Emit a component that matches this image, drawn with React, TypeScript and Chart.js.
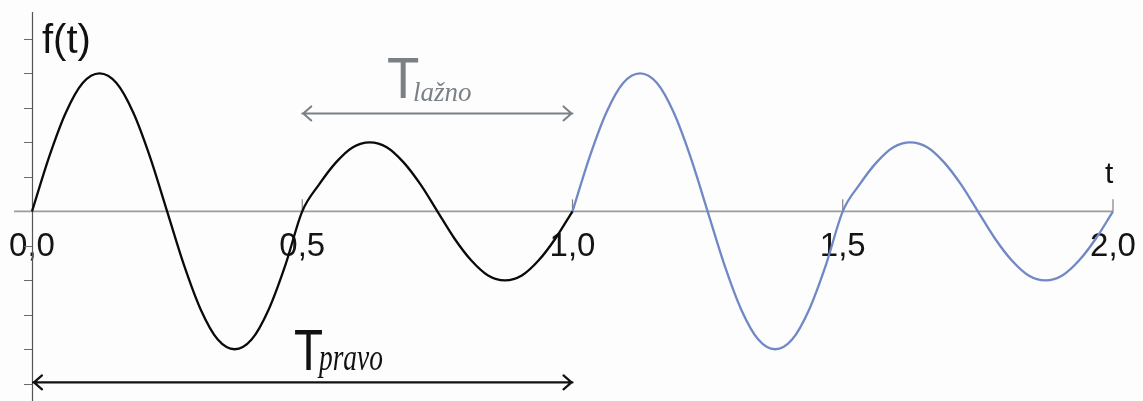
import React, { useEffect, useRef } from "react";
import { Chart, registerables } from "chart.js";

Chart.register(...registerables);

// sample times (first period 0..1, second period 1..2)
const tFirst = [
  0, 0.03125, 0.0625, 0.09375, 0.125, 0.15625, 0.1875, 0.21875, 0.25,
  0.28125, 0.3125, 0.34375, 0.375, 0.40625, 0.4375, 0.46875, 0.5,
  0.53125, 0.5625, 0.59375, 0.625, 0.65625, 0.6875, 0.71875, 0.75,
  0.78125, 0.8125, 0.84375, 0.875, 0.90625, 0.9375, 0.96875, 1,
];
const fFirst = [
  0, 0.78, 1.43, 1.86, 2.0, 1.86, 1.43, 0.78, 0,
  -0.78, -1.43, -1.86, -2.0, -1.86, -1.43, -0.78, 0,
  0.39, 0.71, 0.93, 1.0, 0.93, 0.71, 0.39, 0,
  -0.39, -0.71, -0.93, -1.0, -0.93, -0.71, -0.39, 0,
];
const tSecond = [
  1, 1.03125, 1.0625, 1.09375, 1.125, 1.15625, 1.1875, 1.21875, 1.25,
  1.28125, 1.3125, 1.34375, 1.375, 1.40625, 1.4375, 1.46875, 1.5,
  1.53125, 1.5625, 1.59375, 1.625, 1.65625, 1.6875, 1.71875, 1.75,
  1.78125, 1.8125, 1.84375, 1.875, 1.90625, 1.9375, 1.96875, 2,
];
const fSecond = [
  0, 0.78, 1.43, 1.86, 2.0, 1.86, 1.43, 0.78, 0,
  -0.78, -1.43, -1.86, -2.0, -1.86, -1.43, -0.78, 0,
  0.39, 0.71, 0.93, 1.0, 0.93, 0.71, 0.39, 0,
  -0.39, -0.71, -0.93, -1.0, -0.93, -0.71, -0.39, 0,
];

const xTickValues = [0, 0.5, 1, 1.5, 2];
const xTickLabels = ["0,0", "0,5", "1,0", "1,5", "2,0"];
const yTickValues = [-2.5, -2, -1.5, -1, -0.5, 0.5, 1, 1.5, 2, 2.5];

const yAxisTitle = "f(t)";
const xAxisTitle = "t";
const periodFalse = { from: 0.5, to: 1.0, level: 1.42, main: "T", sub: "lažno" };
const periodTrue = { from: 0.0, to: 1.0, level: -2.48, main: "T", sub: "pravo" };

function drawText(
  ctx: CanvasRenderingContext2D,
  text: string,
  x: number,
  y: number,
  font: string,
  color: string,
  scaleX = 1,
  align: CanvasTextAlign = "left"
) {
  ctx.save();
  ctx.font = font;
  ctx.fillStyle = color;
  ctx.textAlign = align;
  ctx.textBaseline = "alphabetic";
  ctx.translate(x, y);
  ctx.scale(scaleX, 1);
  ctx.fillText(text, 0, 0);
  ctx.restore();
}

function drawArrow(
  ctx: CanvasRenderingContext2D,
  x1: number,
  x2: number,
  y: number,
  color: string,
  width: number
) {
  ctx.save();
  ctx.strokeStyle = color;
  ctx.lineWidth = width;
  ctx.lineCap = "round";
  ctx.lineJoin = "round";
  ctx.beginPath();
  ctx.moveTo(x1, y);
  ctx.lineTo(x2, y);
  ctx.moveTo(x1 + 9, y - 7);
  ctx.lineTo(x1 + 1, y);
  ctx.lineTo(x1 + 9, y + 7);
  ctx.moveTo(x2 - 9, y - 7);
  ctx.lineTo(x2 - 1, y);
  ctx.lineTo(x2 - 9, y + 7);
  ctx.stroke();
  ctx.restore();
}

const axesPlugin = {
  id: "customAxes",
  beforeDraw(chart: any) {
    const ctx = chart.ctx as CanvasRenderingContext2D;
    ctx.save();
    ctx.fillStyle = "#fdfdfd";
    ctx.fillRect(0, 0, chart.width, chart.height);
    ctx.restore();
  },
  beforeDatasetsDraw(chart: any) {
    const ctx = chart.ctx as CanvasRenderingContext2D;
    const xs = chart.scales.x;
    const ys = chart.scales.y;
    const x0 = xs.getPixelForValue(0);
    const y0 = ys.getPixelForValue(0);
    const xEnd = xs.getPixelForValue(2);

    // x tick labels
    xTickValues.forEach((v, i) => {
      drawText(ctx, xTickLabels[i], xs.getPixelForValue(v), y0 + 45, "33px 'Liberation Sans', Arial, sans-serif", "#141414", 1, "center");
    });

    ctx.save();
    // zero line
    ctx.strokeStyle = "#9c9c9c";
    ctx.lineWidth = 1.6;
    ctx.beginPath();
    ctx.moveTo(x0 - 18, y0);
    ctx.lineTo(xEnd, y0);
    ctx.stroke();

    // x ticks (upwards)
    ctx.strokeStyle = "#808080";
    ctx.lineWidth = 1.2;
    xTickValues.forEach((v) => {
      if (v === 0) return;
      const px = xs.getPixelForValue(v);
      ctx.beginPath();
      ctx.moveTo(px, y0 - 12);
      ctx.lineTo(px, y0);
      ctx.stroke();
    });

    // y ticks
    ctx.strokeStyle = "#6a6a6a";
    ctx.lineWidth = 1;
    yTickValues.forEach((v) => {
      const py = Math.round(ys.getPixelForValue(v)) + 0.5;
      ctx.beginPath();
      ctx.moveTo(x0 - 8, py);
      ctx.lineTo(x0, py);
      ctx.stroke();
    });

    // y axis line
    ctx.strokeStyle = "#555555";
    ctx.lineWidth = 1.2;
    ctx.beginPath();
    ctx.moveTo(Math.round(x0) + 0.5, ys.top);
    ctx.lineTo(Math.round(x0) + 0.5, ys.bottom);
    ctx.stroke();
    ctx.restore();
  },
  afterDatasetsDraw(chart: any) {
    const ctx = chart.ctx as CanvasRenderingContext2D;
    const xs = chart.scales.x;
    const ys = chart.scales.y;
    const y0 = ys.getPixelForValue(0);

    // axis titles
    drawText(ctx, yAxisTitle, xs.getPixelForValue(0) + 10, 53, "40px 'Liberation Sans', Arial, sans-serif", "#111111", 1);
    drawText(ctx, xAxisTitle, xs.getPixelForValue(2) - 8, y0 - 28, "30px 'Liberation Sans', Arial, sans-serif", "#111111");

    // false period
    const fy = ys.getPixelForValue(periodFalse.level);
    drawArrow(ctx, xs.getPixelForValue(periodFalse.from), xs.getPixelForValue(periodFalse.to), fy, "#7b8086", 2);
    drawText(ctx, periodFalse.main, 387, 98, "57px 'Liberation Sans', Arial, sans-serif", "#7b8086", 0.93);
    drawText(ctx, periodFalse.sub, 413, 101, "italic 27px 'Liberation Serif', 'Times New Roman', serif", "#7b8086");

    // true period
    const ty = ys.getPixelForValue(periodTrue.level);
    drawArrow(ctx, xs.getPixelForValue(periodTrue.from) + 1, xs.getPixelForValue(periodTrue.to), ty, "#111111", 2.2);
    drawText(ctx, periodTrue.main, 294, 370, "58px 'Liberation Sans', Arial, sans-serif", "#111111", 0.82);
    drawText(ctx, periodTrue.sub, 319, 370, "italic 37px 'Liberation Serif', 'Times New Roman', serif", "#111111", 0.74);
  },
};

export default function App() {
  const canvasRef = useRef<HTMLCanvasElement | null>(null);

  useEffect(() => {
    const canvas = canvasRef.current;
    if (!canvas) return;
    const chart = new Chart(canvas, {
      type: "line",
      data: {
        datasets: [
          {
            label: "f(t) first period",
            data: tFirst.map((t, i) => ({ x: t, y: fFirst[i] })),
            borderColor: "#0a0a0a",
            borderWidth: 2.3,
            pointRadius: 0,
            cubicInterpolationMode: "monotone",
            fill: false,
          },
          {
            label: "f(t) second period",
            data: tSecond.map((t, i) => ({ x: t, y: fSecond[i] })),
            borderColor: "#7088c6",
            borderWidth: 2.3,
            pointRadius: 0,
            cubicInterpolationMode: "monotone",
            fill: false,
          },
        ],
      },
      options: {
        animation: false,
        responsive: false,
        devicePixelRatio: 1,
        clip: false as any,
        layout: { padding: { left: 32, right: 30, top: 12, bottom: 0 } },
        plugins: {
          legend: { display: false },
          tooltip: { enabled: false },
          title: { display: false },
        },
        scales: {
          x: { type: "linear", min: 0, max: 2, display: false },
          y: { type: "linear", min: -2.75, max: 2.89, display: false },
        },
        events: [],
      },
      plugins: [axesPlugin],
    });
    return () => chart.destroy();
  }, []);

  return (
    <div style={{ position: "absolute", left: 0, top: 0, width: 1143, height: 401 }}>
      <canvas ref={canvasRef} width={1143} height={401} style={{ width: 1143, height: 401, display: "block" }} />
    </div>
  );
}
